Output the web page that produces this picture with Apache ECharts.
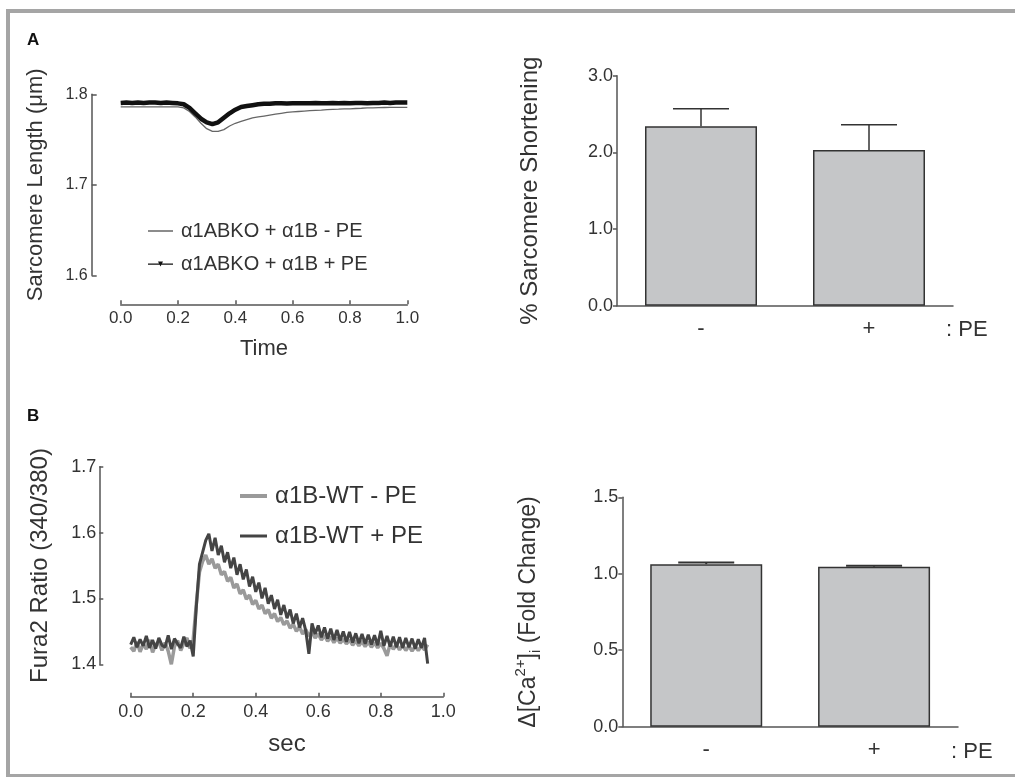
<!DOCTYPE html>
<html>
<head>
<meta charset="utf-8">
<script src="https://cdn.jsdelivr.net/npm/echarts@6/dist/echarts.min.js"></script>
<style>
  html, body { margin: 0; padding: 0; background: #fff; }
  #main { width: 1015px; height: 777px; }
</style>
</head>
<body>
<div id="main"></div>
<script>
// panel A left: sarcomere length traces
var timeA = [0.00,0.02,0.04,0.06,0.08,0.10,0.12,0.14,0.16,0.18,0.20,0.22,0.24,0.26,0.28,0.30,0.32,0.34,0.36,0.38,0.40,0.42,0.44,0.46,0.48,0.50,
  0.52,0.54,0.56,0.58,0.60,0.62,0.64,0.66,0.68,0.70,0.72,0.74,0.76,0.78,0.80,0.82,0.84,0.86,0.88,0.90,0.92,0.94,0.96,0.98,1.00]
var lenMinusPE = [1.786,1.786,1.786,1.786,1.786,1.786,1.786,1.786,1.786,1.786,1.786,1.785,1.781,1.775,1.768,1.762,1.759,1.759,1.761,1.765,1.768,1.770,1.772,1.774,1.775,1.776,
  1.777,1.778,1.779,1.780,1.7805,1.781,1.7815,1.782,1.7823,1.7826,1.783,1.7833,1.7836,1.784,1.784,1.7843,1.7846,1.785,1.785,1.7852,1.7854,1.7855,1.7855,1.7856,1.7856]
var lenPlusPE = [1.7905,1.791,1.7905,1.791,1.7905,1.791,1.791,1.7905,1.791,1.7905,1.790,1.789,1.785,1.779,1.773,1.769,1.767,1.769,1.774,1.779,1.783,1.786,1.787,1.788,1.789,1.7895,
  1.7895,1.790,1.790,1.7898,1.790,1.7902,1.790,1.790,1.7905,1.790,1.790,1.7905,1.790,1.7905,1.790,1.7905,1.7905,1.790,1.7905,1.7905,1.791,1.7905,1.791,1.791,1.791]

// panel A right: % sarcomere shortening
var peLabels = ['-', '+']
var shortMean = [2.34, 2.03]
var shortErr = [0.23, 0.33]

// panel B left: Fura2 ratio traces
var timeB = [0.00,0.01,0.02,0.03,0.04,0.05,0.06,0.07,0.08,0.09,0.10,0.11,0.12,0.13,0.14,0.15,0.16,0.17,0.18,0.19,
  0.20,0.21,0.22,0.23,0.24,0.25,0.26,0.27,0.28,0.29,0.30,0.31,0.32,0.33,0.34,0.35,0.36,0.37,0.38,0.39,
  0.40,0.41,0.42,0.43,0.44,0.45,0.46,0.47,0.48,0.49,0.50,0.51,0.52,0.53,0.54,0.55,0.56,0.57,0.58,0.59,
  0.60,0.61,0.62,0.63,0.64,0.65,0.66,0.67,0.68,0.69,0.70,0.71,0.72,0.73,0.74,0.75,0.76,0.77,0.78,0.79,
  0.80,0.81,0.82,0.83,0.84,0.85,0.86,0.87,0.88,0.89,0.90,0.91,0.92,0.93,0.94,0.95]
var furaMinusPE = [1.426,1.420,1.434,1.419,1.431,1.423,1.437,1.418,1.430,1.434,1.421,1.433,1.420,1.400,1.427,1.436,1.421,1.432,1.440,1.424,
  1.438,1.492,1.540,1.556,1.566,1.552,1.560,1.546,1.552,1.536,1.541,1.526,1.532,1.516,1.522,1.507,1.513,1.499,1.505,1.491,
  1.497,1.484,1.490,1.477,1.483,1.470,1.477,1.465,1.471,1.460,1.466,1.455,1.461,1.450,1.457,1.446,1.453,1.443,1.449,1.440,
  1.446,1.437,1.444,1.435,1.442,1.433,1.440,1.432,1.438,1.431,1.437,1.429,1.436,1.428,1.435,1.427,1.434,1.426,1.433,1.425,
  1.432,1.424,1.413,1.431,1.423,1.430,1.422,1.429,1.421,1.428,1.420,1.427,1.421,1.428,1.422,1.430]
var furaPlusPE = [1.430,1.441,1.426,1.438,1.428,1.443,1.425,1.437,1.424,1.440,1.429,1.426,1.444,1.423,1.439,1.431,1.425,1.442,1.427,1.436,
  1.412,1.488,1.552,1.570,1.588,1.598,1.572,1.592,1.566,1.580,1.555,1.570,1.546,1.562,1.536,1.552,1.529,1.544,1.518,1.533,
  1.510,1.524,1.500,1.516,1.492,1.505,1.484,1.498,1.475,1.490,1.470,1.483,1.462,1.477,1.456,1.470,1.451,1.416,1.462,1.446,
  1.459,1.441,1.456,1.439,1.454,1.437,1.452,1.436,1.450,1.434,1.449,1.433,1.447,1.432,1.446,1.431,1.445,1.430,1.444,1.429,
  1.451,1.428,1.443,1.427,1.442,1.426,1.441,1.425,1.440,1.426,1.439,1.424,1.438,1.425,1.440,1.401]

// panel B right: delta Ca fold change
var caMean = [1.063, 1.046]
var caErr = [0.010, 0.006]

var FONT = 'Liberation Sans, Arial, sans-serif'
var AX = '#555'
var TXT = '#333'

function pairs(xs, ys) {
  var out = []
  for (var i = 0; i < xs.length; i++) out.push([xs[i], ys[i]])
  return out
}
function errData(m, e) {
  var out = []
  for (var i = 0; i < m.length; i++) out.push([i, m[i], e[i]])
  return out
}
function errRender(capHalf, w) {
  return function (params, api) {
    var base = api.coord([api.value(0), api.value(1)])
    var top = api.coord([api.value(0), api.value(1) + api.value(2)])
    var st = { stroke: '#333', lineWidth: w }
    return {
      type: 'group',
      children: [
        { type: 'line', shape: { x1: base[0], y1: base[1], x2: top[0], y2: top[1] }, style: st },
        { type: 'line', shape: { x1: top[0] - capHalf, y1: top[1], x2: top[0] + capHalf, y2: top[1] }, style: st }
      ]
    }
  }
}
function fmt1(v) { return v.toFixed(1) }

var chart = echarts.init(document.getElementById('main'))

var option = {
  animation: false,
  backgroundColor: '#fff',
  textStyle: { fontFamily: FONT },
  graphic: [
    { type: 'rect', shape: { x: 6, y: 9, width: 4, height: 768 }, style: { fill: '#a5a5a5' } },
    { type: 'rect', shape: { x: 6, y: 9, width: 1009, height: 4 }, style: { fill: '#a5a5a5' } },
    { type: 'rect', shape: { x: 6, y: 774, width: 1009, height: 3 }, style: { fill: '#a5a5a5' } },
    { type: 'text', x: 27, y: 32, style: { text: 'A', font: 'bold 17px ' + FONT, fill: '#111' } },
    { type: 'text', x: 27, y: 408, style: { text: 'B', font: 'bold 17px ' + FONT, fill: '#111' } },
    { type: 'text', x: 946, y: 330, style: { text: ': PE', font: '22px ' + FONT, fill: TXT, verticalAlign: 'middle' } },
    { type: 'text', x: 951, y: 752, style: { text: ': PE', font: '22px ' + FONT, fill: TXT, verticalAlign: 'middle' } }
  ],
  legend: [
    { left: 143, top: 216, data: ['α1ABKO + α1B - PE'], icon: 'rect', itemWidth: 25, itemHeight: 1.5,
      selectedMode: false, textStyle: { fontSize: 20, color: TXT, padding: [0, 0, 0, 3] } },
    { left: 143, top: 249, data: ['α1ABKO + α1B + PE'],
      icon: 'path://M0,3L40,3L40,5L0,5Z M16,0L24,0L20,8Z', itemWidth: 25, itemHeight: 5,
      selectedMode: false, textStyle: { fontSize: 20, color: TXT, padding: [0, 0, 0, 3] } },
    { left: 235, top: 479, data: ['α1B-WT - PE'], icon: 'rect', itemWidth: 27, itemHeight: 4,
      selectedMode: false, textStyle: { fontSize: 24, color: TXT, padding: [0, 0, 0, 3] } },
    { left: 235, top: 519, data: ['α1B-WT + PE'], icon: 'rect', itemWidth: 27, itemHeight: 3,
      selectedMode: false, textStyle: { fontSize: 24, color: TXT, padding: [0, 0, 0, 3] } }
  ],
  grid: [
    { left: 120.7, top: 94.3, width: 286.6, height: 181 },
    { left: 617, top: 75.7, width: 336, height: 230 },
    { left: 130.7, top: 466.7, width: 312.6, height: 197.6 },
    { left: 622.3, top: 497.3, width: 335.7, height: 229.4 }
  ],
  xAxis: [
    { gridIndex: 0, type: 'value', min: 0, max: 1, interval: 0.2, offset: 29,
      name: 'Time', nameLocation: 'middle', nameGap: 34,
      nameTextStyle: { fontSize: 22, color: TXT },
      axisLine: { onZero: false, lineStyle: { color: AX, width: 1.5 } },
      axisTick: { inside: true, length: 4, lineStyle: { color: AX, width: 1.5 } },
      axisLabel: { fontSize: 17, color: TXT, margin: 6, formatter: fmt1 },
      splitLine: { show: false } },
    { gridIndex: 1, type: 'category', data: peLabels,
      axisLine: { onZero: false, lineStyle: { color: AX, width: 1.5 } },
      axisTick: { show: false },
      axisLabel: { fontSize: 22, color: TXT, margin: 12 } },
    { gridIndex: 2, type: 'value', min: 0, max: 1, interval: 0.2, offset: 32.4,
      name: 'sec', nameLocation: 'middle', nameGap: 36,
      nameTextStyle: { fontSize: 24, color: TXT },
      axisLine: { onZero: false, lineStyle: { color: AX, width: 1.5 } },
      axisTick: { inside: true, length: 4, lineStyle: { color: AX, width: 1.5 } },
      axisLabel: { fontSize: 18, color: TXT, margin: 6, formatter: fmt1 },
      splitLine: { show: false } },
    { gridIndex: 3, type: 'category', data: peLabels,
      axisLine: { onZero: false, lineStyle: { color: AX, width: 1.5 } },
      axisTick: { show: false },
      axisLabel: { fontSize: 22, color: TXT, margin: 12 } }
  ],
  yAxis: [
    { gridIndex: 0, type: 'value', min: 1.6, max: 1.8, interval: 0.1, offset: 29,
      name: 'Sarcomere Length (μm)', nameLocation: 'middle', nameGap: 45,
      nameTextStyle: { fontSize: 22, color: TXT },
      axisLine: { show: true, onZero: false, lineStyle: { color: AX, width: 1.5 } },
      axisTick: { show: true, inside: true, length: 5, lineStyle: { color: AX, width: 1.5 } },
      axisLabel: { fontSize: 16, color: TXT, margin: 4, formatter: fmt1 },
      splitLine: { show: false } },
    { gridIndex: 1, type: 'value', min: 0, max: 3, interval: 1,
      name: '% Sarcomere Shortening', nameLocation: 'middle', nameGap: 75,
      nameTextStyle: { fontSize: 24, color: TXT },
      axisLine: { show: true, onZero: false, lineStyle: { color: AX, width: 1.5 } },
      axisTick: { show: true, length: 4, lineStyle: { color: AX, width: 1.5 } },
      axisLabel: { fontSize: 18, color: TXT, margin: 4, formatter: fmt1 },
      splitLine: { show: false } },
    { gridIndex: 2, type: 'value', min: 1.4, max: 1.7, interval: 0.1, offset: 31.4,
      name: 'Fura2 Ratio (340/380)', nameLocation: 'middle', nameGap: 47,
      nameTextStyle: { fontSize: 24, color: TXT },
      axisLine: { show: true, onZero: false, lineStyle: { color: AX, width: 1.5 } },
      axisTick: { show: true, inside: true, length: 4, lineStyle: { color: AX, width: 1.5 } },
      axisLabel: { fontSize: 18, color: TXT, margin: 3, formatter: fmt1 },
      splitLine: { show: false } },
    { gridIndex: 3, type: 'value', min: 0, max: 1.5, interval: 0.5,
      name: '{n|Δ[Ca}{sup|2+}{n|]}{sub|i}{n| (Fold Change)}', nameLocation: 'middle', nameGap: 79,
      nameTextStyle: { fontSize: 23, color: TXT,
        rich: {
          n: { fontSize: 23, color: TXT, fontFamily: FONT, lineHeight: 30, verticalAlign: 'middle' },
          sup: { fontSize: 15, color: TXT, fontFamily: FONT, lineHeight: 30, verticalAlign: 'top' },
          sub: { fontSize: 15, color: TXT, fontFamily: FONT, lineHeight: 30, verticalAlign: 'bottom' }
        } },
      axisLine: { show: true, onZero: false, lineStyle: { color: AX, width: 1.5 } },
      axisTick: { show: true, length: 4, lineStyle: { color: AX, width: 1.5 } },
      axisLabel: { fontSize: 18, color: TXT, margin: 4, formatter: fmt1 },
      splitLine: { show: false } }
  ],
  series: [
    { name: 'α1ABKO + α1B - PE', type: 'line', xAxisIndex: 0, yAxisIndex: 0, data: pairs(timeA, lenMinusPE),
      symbol: 'none', itemStyle: { color: '#666' }, lineStyle: { color: '#666', width: 1.3 } },
    { name: 'α1ABKO + α1B + PE', type: 'line', xAxisIndex: 0, yAxisIndex: 0, data: pairs(timeA, lenPlusPE),
      symbol: 'none', itemStyle: { color: '#111' }, lineStyle: { color: '#111', width: 4.5 } },
    { type: 'bar', xAxisIndex: 1, yAxisIndex: 1, data: shortMean, barWidth: 112,
      itemStyle: { color: '#c5c6c8', borderColor: '#333', borderWidth: 1.5 } },
    { type: 'custom', xAxisIndex: 1, yAxisIndex: 1, data: errData(shortMean, shortErr),
      renderItem: errRender(28, 1.5), z: 3 },
    { name: 'α1B-WT - PE', type: 'line', xAxisIndex: 2, yAxisIndex: 2, data: pairs(timeB, furaMinusPE),
      symbol: 'none', itemStyle: { color: '#9a9a9a' }, lineStyle: { color: '#9a9a9a', width: 3.5 } },
    { name: 'α1B-WT + PE', type: 'line', xAxisIndex: 2, yAxisIndex: 2, data: pairs(timeB, furaPlusPE),
      symbol: 'none', itemStyle: { color: '#444' }, lineStyle: { color: '#444', width: 3 } },
    { type: 'bar', xAxisIndex: 3, yAxisIndex: 3, data: caMean, barWidth: 112,
      itemStyle: { color: '#c5c6c8', borderColor: '#333', borderWidth: 1.5 } },
    { type: 'custom', xAxisIndex: 3, yAxisIndex: 3, data: errData(caMean, caErr),
      renderItem: errRender(28, 2), z: 3 }
  ]
}

chart.setOption(option)
</script>
</body>
</html>
